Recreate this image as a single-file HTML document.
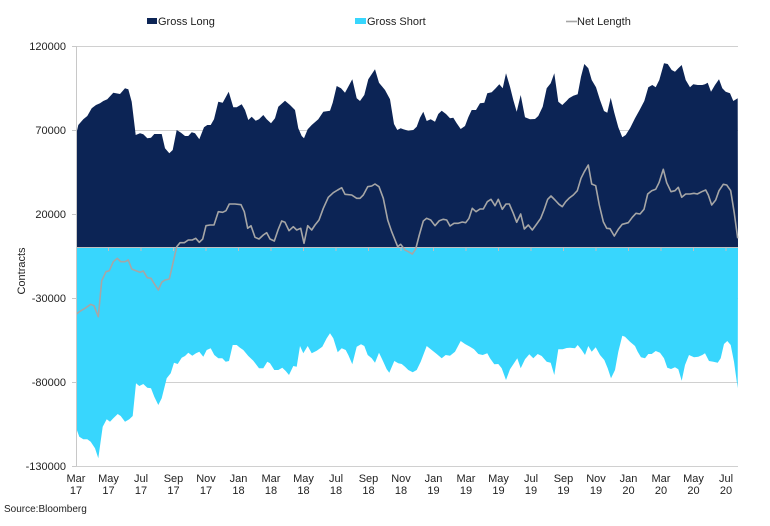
<!DOCTYPE html>
<html><head><meta charset="utf-8"><style>
html,body{margin:0;padding:0;background:#fff;}
svg{display:block;font-family:"Liberation Sans",Arial,sans-serif;}
</style></head><body>
<svg width="770" height="526" viewBox="0 0 770 526" xmlns="http://www.w3.org/2000/svg">
<rect width="770" height="526" fill="#fff"/>
<!-- gridlines -->
<g stroke="#d0d0d0" stroke-width="1">
<line x1="76" y1="46.5" x2="738" y2="46.5"/>
<line x1="76" y1="130.5" x2="738" y2="130.5"/>
<line x1="76" y1="214.5" x2="738" y2="214.5"/>
<line x1="76" y1="298.5" x2="738" y2="298.5"/>
<line x1="76" y1="382.5" x2="738" y2="382.5"/>
<line x1="76" y1="466.5" x2="738" y2="466.5"/>
</g>
<!-- gross long -->
<polygon fill="#0c2455" points="76.5,247.5 76.5,133 78.3,125 83.3,119.3 87.3,116 91.7,108.3 96,105 100,103.3 103.3,101 107.3,99.3 113.3,92.7 120,94 125,88.3 128.3,89.3 131.7,101.7 135.7,135 140,133.3 143.3,134.3 147.3,138.3 151,137.7 154.3,134 158.3,134 161.7,134 165,148.3 169.3,153.3 172.7,150 176.7,130 181,132.7 185,136 188.3,136 191.7,132.3 195,133.3 199.3,139.3 204,127.3 207.3,125 210.7,125 214,119.3 218.3,101.7 222.7,102.7 228.7,91.7 233.3,107.3 236.7,107.3 240,105.3 241.7,104.3 245,110 248.3,120 251.7,116.7 255.7,120.7 259,119.3 263.3,115 266.7,119.3 271,123.3 275,118.3 278.3,106.7 285,100.7 290,105 295,110 298.3,128.3 301.7,136 304,138.3 307.7,129.3 311.7,125 318.3,119.3 323.3,111.7 330,110.7 332.7,102.7 336.7,86 341,88.3 345,92.7 352.3,79.3 356.7,98.3 360,101 364.3,95 368.3,79.3 375,69.3 379,82.7 385,90 390,99.3 394,124 397.3,130 400.7,128.3 403.3,129.3 408.3,130.7 413.3,130 416.7,126.7 420,117.7 423.3,111.7 426.7,121 430.7,119.3 435,121.7 438.3,114 441.7,110.7 446,114 450,118.3 453.3,117.7 456.7,123.3 460.7,129 465,126 468.3,117.3 471.7,110 476,110 480,103.3 484.3,102.7 487.3,93.3 491.7,92.3 495.7,88.3 499.3,84.3 502.7,88.3 506,73.3 510,86.7 513.3,100 516.7,111.7 520.7,95 525,117.3 530,119.3 535,119 538.3,116 542.7,106.7 546.7,88.3 550.7,83.3 554.3,73.3 558.3,101.7 562.3,105 566.7,100.7 569,98.3 573.3,95.7 577.7,94.3 581,76.7 584.3,64 588.3,68.3 591.7,80 596,87.3 600,100 604,111 607.3,112.7 610.7,97.7 614.3,112.7 618.3,127.3 622.3,137.3 625.7,135 630,128.3 635,118.3 640,109.3 644.3,101 648.3,87.3 652.3,85 655.7,87.3 659.3,80 664,63.3 667.7,64 671.7,70 675,71.7 678.3,68.3 681.7,65 685.7,80 690,87.3 693.3,84.3 697.7,85 702.3,85 705,84.3 707.7,82.7 711,91.7 715,85 719,79.3 722.3,88.3 725.7,91.7 730,93.3 733.3,101 737.7,98.3 738,247.5"/>
<!-- gross short -->
<polygon fill="#38d6fd" points="76.5,247.5 76.5,429 79.3,436.7 83.3,439.3 87.3,439.3 90.7,441.7 95,448.3 98.3,458.3 102.7,426.7 106.7,419.3 110,421.7 113.3,418.3 117.7,414 120.7,416 125,421.7 129.3,419.3 132.7,416 136,383.3 139.3,386 143.3,384 147.3,387.7 151,388.3 154.3,396.7 158.3,405 161.7,398.3 166.7,378.3 170.7,373.3 174,362.7 177.7,364 181.7,357.7 185,356 188.3,352.7 192.3,355.7 196,353.3 199.3,351.7 203.3,356.7 206.7,350 210.7,348.3 214.3,355 218.3,358.3 222.3,358.3 225.7,361.7 229,361 232.7,345 236.7,345 240,347.7 243.3,350 248.3,356 253.3,360.7 259,368.3 263.3,368.3 267.3,361.7 270,363.3 274.3,370 278.3,370 282.3,367.7 285.7,371 289,375 293.3,366 296.7,366.7 300,346 303.3,353.3 307.7,346 311.7,353.3 316.7,350.7 322.3,346.7 326.7,338.3 330,333.3 333.3,338.3 337.7,352.3 341.7,348.3 345.7,350 348.3,355 352.3,364.3 356.7,346.7 361,344.3 364.3,346 367.7,355 371.7,358.3 375,362.7 379,352.7 383.3,361.7 386.7,369.3 389.3,372.7 394.3,361 398.3,363.3 401.7,364 405,366.7 408.3,370 412.7,372.3 416.7,370 420.7,361.7 426.7,346 431.7,350 436.7,354 441.7,358.3 445.7,355 450,355.7 455,351.7 460.7,341 465,344 470,346.7 474,349.3 478.3,354 482.7,355 487.3,353.3 490,358.3 494.3,364.3 498.3,364 501.7,368.3 506,380 510,369.3 514,363.3 517.3,358.3 520.7,368.3 525,359.3 529.3,354.3 533.3,358.3 537.7,354 541.7,356 546.7,361.7 550.7,362.7 554.3,375 558.3,349.3 562.7,349.3 566.7,348 570,347.7 575,348.3 577.7,345 581.7,350 585,355 588.3,346 591.7,351.7 595.7,347.3 600,355 604.3,360 607.7,368.3 611,378.3 615,370 618.3,351.7 622.3,335.7 625,336.7 630,341.7 635,346 637.7,351.7 641,357.3 645,358.3 648.3,354 651.7,354 655.7,351 660,352.7 664,358.3 667.3,367.7 671,369 675,367.3 678.3,369.3 681.7,380.7 685,365 689,355 694,357.3 698.3,356.7 702.3,355 705,353.3 709,361 713.3,361.7 717.7,362.7 720.7,358.3 724,344 727.3,341 730.7,345 734,361.7 737.7,388.3 738,247.5"/>
<!-- zero axis -->
<line x1="76" y1="247.5" x2="738" y2="247.5" stroke="#bfbfbf" stroke-width="1"/>
<g stroke="#bfbfbf" stroke-width="1">
<line x1="108.5" y1="247.5" x2="108.5" y2="251"/><line x1="141" y1="247.5" x2="141" y2="251"/><line x1="173.5" y1="247.5" x2="173.5" y2="251"/><line x1="206" y1="247.5" x2="206" y2="251"/><line x1="238.5" y1="247.5" x2="238.5" y2="251"/><line x1="271" y1="247.5" x2="271" y2="251"/><line x1="303.5" y1="247.5" x2="303.5" y2="251"/><line x1="336" y1="247.5" x2="336" y2="251"/><line x1="368.5" y1="247.5" x2="368.5" y2="251"/><line x1="401" y1="247.5" x2="401" y2="251"/><line x1="433.5" y1="247.5" x2="433.5" y2="251"/><line x1="466" y1="247.5" x2="466" y2="251"/><line x1="498.5" y1="247.5" x2="498.5" y2="251"/><line x1="531" y1="247.5" x2="531" y2="251"/><line x1="563.5" y1="247.5" x2="563.5" y2="251"/><line x1="596" y1="247.5" x2="596" y2="251"/><line x1="628.5" y1="247.5" x2="628.5" y2="251"/><line x1="661" y1="247.5" x2="661" y2="251"/><line x1="693.5" y1="247.5" x2="693.5" y2="251"/><line x1="726" y1="247.5" x2="726" y2="251"/>
</g>
<!-- net length -->
<polyline fill="none" stroke="#a6a6a6" stroke-width="1.6" stroke-linejoin="round" points="76.5,314 79.3,311.7 85,308.3 90.7,304.3 94,305.7 98.3,316.7 101.7,280.7 106,271.7 109.3,270.7 113.3,261.7 117.3,258.3 120.7,261.7 125,261.7 128.3,260 131.7,269 136,270.7 140,272.3 143.3,271 147.3,277.7 151,278.3 154,283.3 158.3,290 161.7,282.3 165,280 169.3,279 173.3,261.7 176.7,246.7 180,242.7 184.3,242.7 188.3,240 192.3,240 195.7,238.3 199.3,242.3 202.7,239 206,225.7 210,225 214,225 218.3,211.7 222.7,212.3 226,210.7 229.3,204 235,204 241,204.7 244.3,211.7 247.7,228.3 251,225.7 255,237.3 259,239 263.3,235 266.7,232.7 270,239 274.3,241 278.3,229.3 281.7,221 285,222.3 289,230.7 293.3,226.7 296.7,230 300.7,228.3 304,243.3 307.7,225.7 311.7,230 315,225 319,220 323.3,208.3 328.3,197.3 333.3,192.7 337.7,190 341.7,187.7 345,194.3 351.7,195 356.7,198.3 360,198.3 363.3,195 367.7,186.7 371.7,186 375,184 379,186.7 383.3,198.3 387.7,220 391.7,231.7 397.7,246.7 400.7,244.3 405,250 408.3,251.7 412.3,254 415.7,249 419.3,235 423.3,221 426.7,218.3 430.7,220 435,225.7 439.3,220.7 443.3,219.3 446.7,220 450,226 454,223.3 458.3,223.3 462.3,222 465.7,222.7 469,218.3 472.3,208.3 476,211.7 480,209 483.3,209 487.3,201.7 491,199.3 495,205.7 498.3,199.3 502.3,209.3 506,204 509.3,204 513.3,213.3 516.7,222.3 520.7,214 524.3,229 528.3,225 532.3,230 536.7,224 540.7,218.3 544,210 547.7,199.3 551,196 555,200 559,204.3 562.3,206.7 565.7,201.7 569,198.3 573.3,195 577.3,190.7 581,178.3 584.3,171.7 588.3,165 591.7,184 595.7,185.7 599.3,205 603.3,221.7 606.7,228.3 610,228.7 614.3,236 618.3,229.3 622.3,224.3 628.3,222.7 632.3,217.3 636,213.3 640,214 644,209.3 647.7,194 651.7,190.7 655.7,189.3 659,182.7 663.3,169.3 666.7,182.7 671,191.7 675,190.7 678.3,187.3 681.7,197.3 685.7,194 690,194 694,193.3 697.3,194 701.7,191.7 705.7,190 708.3,195 711.7,205 715.7,200 719,190.7 723.3,184.3 726.7,185 730.7,190.7 734.3,213.3 737.7,238.3"/>
<!-- y axis -->
<line x1="76.5" y1="46" x2="76.5" y2="466.5" stroke="#c8c8c8" stroke-width="1"/>
<g stroke="#c8c8c8" stroke-width="1">
<line x1="72" y1="46.5" x2="76" y2="46.5"/><line x1="72" y1="130.5" x2="76" y2="130.5"/><line x1="72" y1="214.5" x2="76" y2="214.5"/><line x1="72" y1="298.5" x2="76" y2="298.5"/><line x1="72" y1="382.5" x2="76" y2="382.5"/><line x1="72" y1="466.5" x2="76" y2="466.5"/>
</g>
<g font-size="11" fill="#222" text-anchor="end">
<text x="66" y="50">120000</text>
<text x="66" y="134">70000</text>
<text x="66" y="218">20000</text>
<text x="66" y="302">-30000</text>
<text x="66" y="386">-80000</text>
<text x="66" y="470">-130000</text>
</g>
<text x="25" y="271" font-size="11" fill="#222" text-anchor="middle" transform="rotate(-90 25 271)">Contracts</text>
<!-- x labels -->
<g font-size="11" fill="#222" text-anchor="middle">
<text x="76" y="482">Mar</text><text x="76" y="494">17</text>
<text x="108.5" y="482">May</text><text x="108.5" y="494">17</text>
<text x="141" y="482">Jul</text><text x="141" y="494">17</text>
<text x="173.5" y="482">Sep</text><text x="173.5" y="494">17</text>
<text x="206" y="482">Nov</text><text x="206" y="494">17</text>
<text x="238.5" y="482">Jan</text><text x="238.5" y="494">18</text>
<text x="271" y="482">Mar</text><text x="271" y="494">18</text>
<text x="303.5" y="482">May</text><text x="303.5" y="494">18</text>
<text x="336" y="482">Jul</text><text x="336" y="494">18</text>
<text x="368.5" y="482">Sep</text><text x="368.5" y="494">18</text>
<text x="401" y="482">Nov</text><text x="401" y="494">18</text>
<text x="433.5" y="482">Jan</text><text x="433.5" y="494">19</text>
<text x="466" y="482">Mar</text><text x="466" y="494">19</text>
<text x="498.5" y="482">May</text><text x="498.5" y="494">19</text>
<text x="531" y="482">Jul</text><text x="531" y="494">19</text>
<text x="563.5" y="482">Sep</text><text x="563.5" y="494">19</text>
<text x="596" y="482">Nov</text><text x="596" y="494">19</text>
<text x="628.5" y="482">Jan</text><text x="628.5" y="494">20</text>
<text x="661" y="482">Mar</text><text x="661" y="494">20</text>
<text x="693.5" y="482">May</text><text x="693.5" y="494">20</text>
<text x="726" y="482">Jul</text><text x="726" y="494">20</text>
</g>
<!-- legend -->
<rect x="147" y="18" width="10" height="6" fill="#0c2455"/>
<text x="158" y="25" font-size="11" fill="#222">Gross Long</text>
<rect x="355" y="18" width="11" height="6" fill="#38d6fd"/>
<text x="367" y="25" font-size="11" fill="#222">Gross Short</text>
<line x1="566" y1="21.5" x2="577" y2="21.5" stroke="#a6a6a6" stroke-width="1.6"/>
<text x="577" y="25" font-size="11" fill="#222">Net Length</text>
<text x="4" y="512" font-size="10" fill="#222">Source:Bloomberg</text>
</svg>
</body></html>
